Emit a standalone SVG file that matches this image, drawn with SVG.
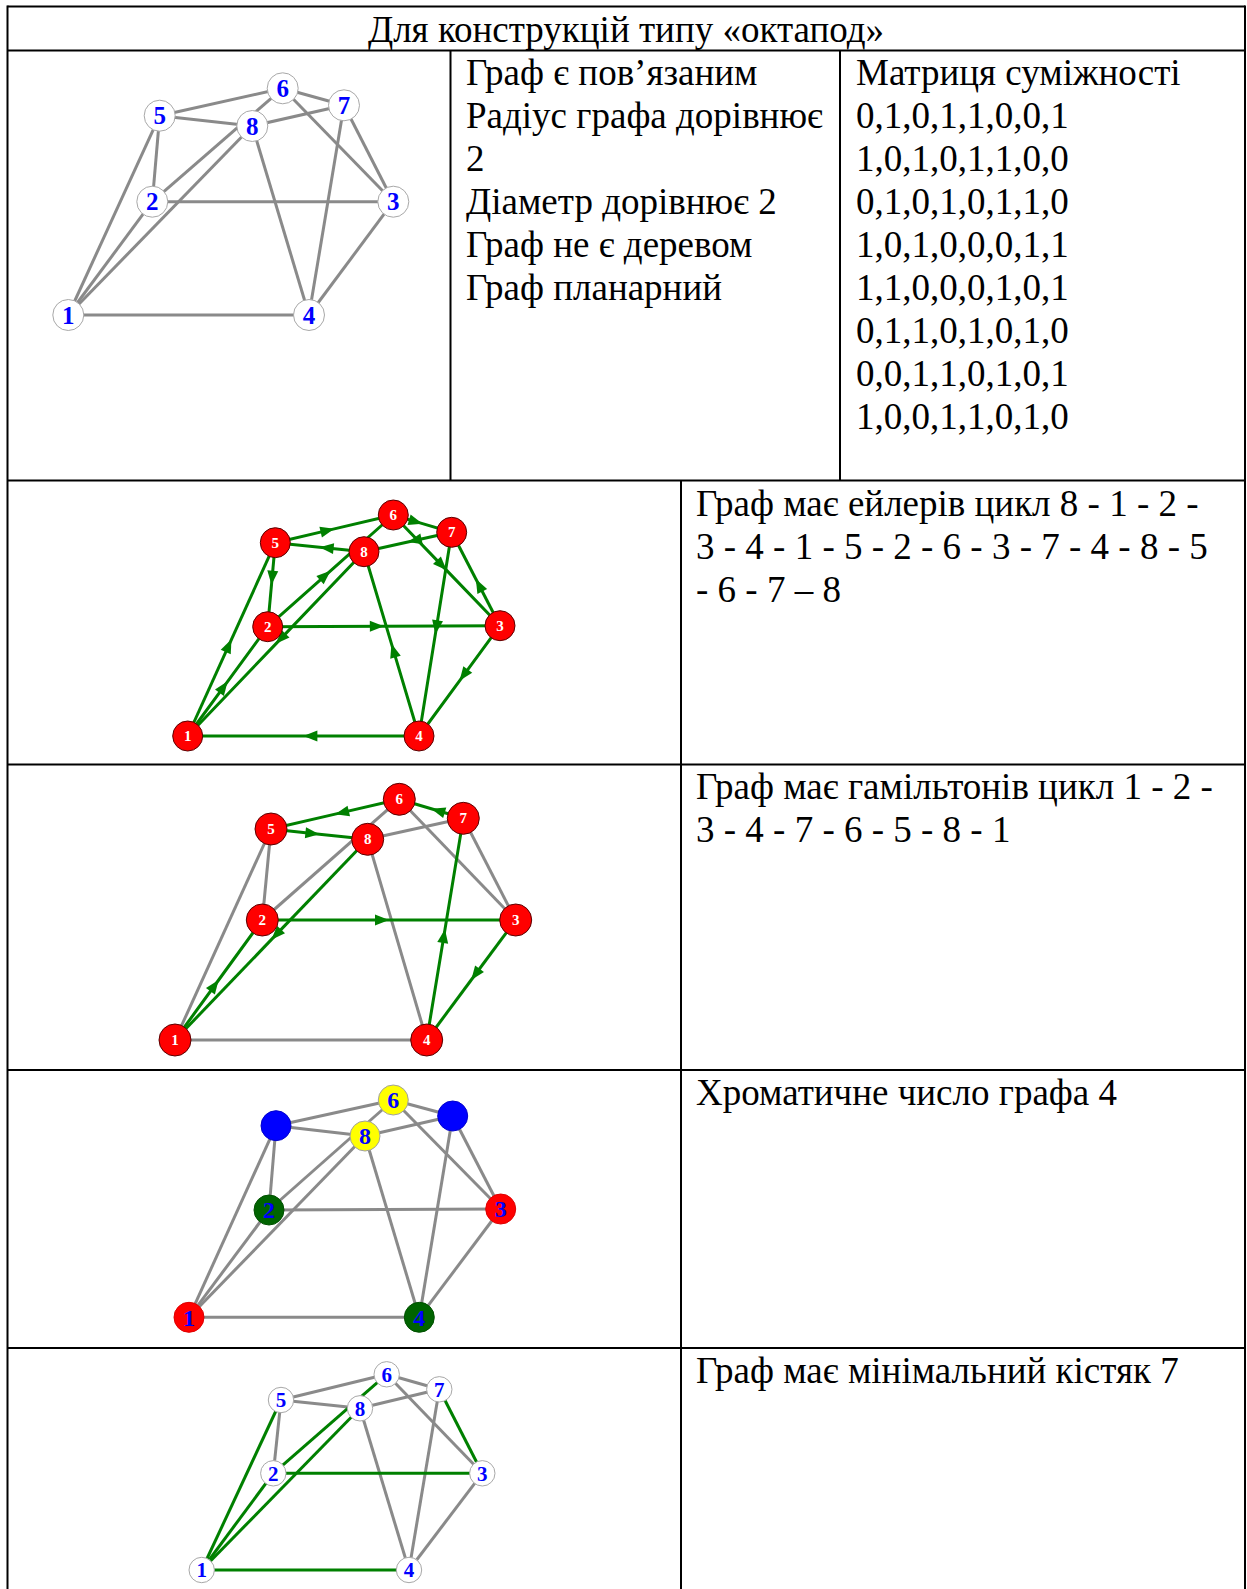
<svg xmlns="http://www.w3.org/2000/svg" width="1247" height="1589" viewBox="0 0 1247 1589">
<style>
.tl{stroke:#000;stroke-width:2;fill:none}
.tx{font-family:"Liberation Serif","Times New Roman",serif;font-size:37px;fill:#000}
.eg{stroke:#8a8a8a;stroke-width:3;fill:none}
.eG{stroke:#008000;stroke-width:3;fill:none}
.eA{stroke:#008000;stroke-width:3;fill:none;marker-mid:url(#arr)}
.nw{fill:#fff;stroke:#a8a8a8;stroke-width:1}
.nr{fill:#f00;stroke:#5a0000;stroke-width:1}
.lb{font-family:"Liberation Serif","Times New Roman",serif;font-weight:bold;fill:#0000ff;text-anchor:middle}
.lw{font-family:"Liberation Serif","Times New Roman",serif;font-weight:bold;fill:#fff;text-anchor:middle;font-size:15px}
</style>
<defs>
<marker id="arr" viewBox="-16 -7 17 14" refX="0" refY="0" markerWidth="17" markerHeight="14" markerUnits="userSpaceOnUse" orient="auto">
<path d="M0,0 L-14,-5.5 L-14,5.5 z" fill="#008000"/>
</marker>
</defs>
<rect width="1247" height="1589" fill="#fff"/>
<g id="table">
<line class="tl" x1="7.5" y1="6.5" x2="1245" y2="6.5"/>
<line class="tl" x1="7.5" y1="5.5" x2="7.5" y2="1589"/>
<line class="tl" x1="1245" y1="5.5" x2="1245" y2="1589"/>
<line class="tl" x1="7.5" y1="50.5" x2="1245" y2="50.5"/>
<line class="tl" x1="7.5" y1="480.5" x2="1245" y2="480.5"/>
<line class="tl" x1="7.5" y1="764.5" x2="1245" y2="764.5"/>
<line class="tl" x1="7.5" y1="1070" x2="1245" y2="1070"/>
<line class="tl" x1="7.5" y1="1348" x2="1245" y2="1348"/>
<line class="tl" x1="450.5" y1="50.5" x2="450.5" y2="480.5"/>
<line class="tl" x1="840" y1="50.5" x2="840" y2="480.5"/>
<line class="tl" x1="681" y1="480.5" x2="681" y2="1589"/>
</g>
<g id="texts">
<text class="tx" x="626" y="42" text-anchor="middle">Для конструкцій типу «октапод»</text>
<text class="tx" x="466" y="85">Граф є пов’язаним</text>
<text class="tx" x="466" y="128">Радіус графа дорівнює</text>
<text class="tx" x="466" y="171">2</text>
<text class="tx" x="466" y="214">Діаметр дорівнює 2</text>
<text class="tx" x="466" y="257">Граф не є деревом</text>
<text class="tx" x="466" y="300">Граф планарний</text>
<text class="tx" x="856" y="85">Матриця суміжності</text>
<text class="tx" x="856" y="128">0,1,0,1,1,0,0,1</text>
<text class="tx" x="856" y="171">1,0,1,0,1,1,0,0</text>
<text class="tx" x="856" y="214">0,1,0,1,0,1,1,0</text>
<text class="tx" x="856" y="257">1,0,1,0,0,0,1,1</text>
<text class="tx" x="856" y="300">1,1,0,0,0,1,0,1</text>
<text class="tx" x="856" y="343">0,1,1,0,1,0,1,0</text>
<text class="tx" x="856" y="386">0,0,1,1,0,1,0,1</text>
<text class="tx" x="856" y="429">1,0,0,1,1,0,1,0</text>
<text class="tx" x="696" y="516">Граф має ейлерів цикл 8 - 1 - 2 -</text>
<text class="tx" x="696" y="559">3 - 4 - 1 - 5 - 2 - 6 - 3 - 7 - 4 - 8 - 5</text>
<text class="tx" x="696" y="602">- 6 - 7 – 8</text>
<text class="tx" x="696" y="799">Граф має гамільтонів цикл 1 - 2 -</text>
<text class="tx" x="696" y="842">3 - 4 - 7 - 6 - 5 - 8 - 1</text>
<text class="tx" x="696" y="1105">Хроматичне число графа 4</text>
<text class="tx" x="696" y="1383">Граф має мінімальний кістяк 7</text>
</g>

<!-- Graph 1 -->
<g id="g1-edges">
<line class="eg" x1="68.3" y1="315" x2="152.3" y2="201.7"/>
<line class="eg" x1="68.3" y1="315" x2="309" y2="315"/>
<line class="eg" x1="68.3" y1="315" x2="159.7" y2="115.7"/>
<line class="eg" x1="68.3" y1="315" x2="252.3" y2="126"/>
<line class="eg" x1="152.3" y1="201.7" x2="393.3" y2="201.7"/>
<line class="eg" x1="152.3" y1="201.7" x2="159.7" y2="115.7"/>
<line class="eg" x1="152.3" y1="201.7" x2="282.7" y2="88.3"/>
<line class="eg" x1="393.3" y1="201.7" x2="309" y2="315"/>
<line class="eg" x1="393.3" y1="201.7" x2="282.7" y2="88.3"/>
<line class="eg" x1="393.3" y1="201.7" x2="344" y2="105.3"/>
<line class="eg" x1="309" y1="315" x2="344" y2="105.3"/>
<line class="eg" x1="309" y1="315" x2="252.3" y2="126"/>
<line class="eg" x1="159.7" y1="115.7" x2="282.7" y2="88.3"/>
<line class="eg" x1="159.7" y1="115.7" x2="252.3" y2="126"/>
<line class="eg" x1="282.7" y1="88.3" x2="344" y2="105.3"/>
<line class="eg" x1="344" y1="105.3" x2="252.3" y2="126"/>
</g>
<g id="g1-n1"><circle class="nw" cx="68.3" cy="315" r="15.5"/><text class="lb" x="68.3" y="323.5" font-size="25">1</text></g>
<g id="g1-n2"><circle class="nw" cx="152.3" cy="201.7" r="15.5"/><text class="lb" x="152.3" y="210.2" font-size="25">2</text></g>
<g id="g1-n3"><circle class="nw" cx="393.3" cy="201.7" r="15.5"/><text class="lb" x="393.3" y="210.2" font-size="25">3</text></g>
<g id="g1-n4"><circle class="nw" cx="309" cy="315" r="15.5"/><text class="lb" x="309" y="323.5" font-size="25">4</text></g>
<g id="g1-n5"><circle class="nw" cx="159.7" cy="115.7" r="15.5"/><text class="lb" x="159.7" y="124.2" font-size="25">5</text></g>
<g id="g1-n6"><circle class="nw" cx="282.7" cy="88.3" r="15.5"/><text class="lb" x="282.7" y="96.8" font-size="25">6</text></g>
<g id="g1-n7"><circle class="nw" cx="344" cy="105.3" r="15.5"/><text class="lb" x="344" y="113.8" font-size="25">7</text></g>
<g id="g1-n8"><circle class="nw" cx="252.3" cy="126" r="15.5"/><text class="lb" x="252.3" y="134.5" font-size="25">8</text></g>

<!-- Graph 2: Euler -->
<g id="g2-edges">
<path class="eA" d="M364,551.7 L275.85,643.85 L187.7,736"/>
<path class="eA" d="M187.7,736 L227.7,681.35 L267.7,626.7"/>
<path class="eA" d="M267.7,626.7 L383.85,626.2 L500,625.7"/>
<path class="eA" d="M500,625.7 L459.5,680.85 L419,736"/>
<path class="eA" d="M419,736 L303.35,736 L187.7,736"/>
<path class="eA" d="M187.7,736 L231.5,639.35 L275.3,542.7"/>
<path class="eA" d="M275.3,542.7 L271.5,584.7 L267.7,626.7"/>
<path class="eA" d="M267.7,626.7 L330.5,570.85 L393.3,515"/>
<path class="eA" d="M393.3,515 L446.65,570.35 L500,625.7"/>
<path class="eA" d="M500,625.7 L475.85,579 L451.7,532.3"/>
<path class="eA" d="M451.7,532.3 L435.35,634.15 L419,736"/>
<path class="eA" d="M419,736 L391.5,643.85 L364,551.7"/>
<path class="eA" d="M364,551.7 L319.65,547.2 L275.3,542.7"/>
<path class="eA" d="M275.3,542.7 L334.3,528.85 L393.3,515"/>
<path class="eA" d="M393.3,515 L422.5,523.65 L451.7,532.3"/>
<path class="eA" d="M451.7,532.3 L407.85,542 L364,551.7"/>
</g>
<g id="g2-n1"><circle class="nr" cx="187.7" cy="736" r="15"/><text class="lw" x="187.7" y="741">1</text></g>
<g id="g2-n2"><circle class="nr" cx="267.7" cy="626.7" r="15"/><text class="lw" x="267.7" y="631.7">2</text></g>
<g id="g2-n3"><circle class="nr" cx="500" cy="625.7" r="15"/><text class="lw" x="500" y="630.7">3</text></g>
<g id="g2-n4"><circle class="nr" cx="419" cy="736" r="15"/><text class="lw" x="419" y="741">4</text></g>
<g id="g2-n5"><circle class="nr" cx="275.3" cy="542.7" r="15"/><text class="lw" x="275.3" y="547.7">5</text></g>
<g id="g2-n6"><circle class="nr" cx="393.3" cy="515" r="15"/><text class="lw" x="393.3" y="520">6</text></g>
<g id="g2-n7"><circle class="nr" cx="451.7" cy="532.3" r="15"/><text class="lw" x="451.7" y="537.3">7</text></g>
<g id="g2-n8"><circle class="nr" cx="364" cy="551.7" r="15"/><text class="lw" x="364" y="556.7">8</text></g>

<!-- Graph 3: Hamilton -->
<g id="g3-edges">
<line class="eg" x1="175" y1="1040" x2="426.7" y2="1040"/>
<line class="eg" x1="175" y1="1040" x2="271" y2="829"/>
<line class="eg" x1="262.3" y1="920" x2="271" y2="829"/>
<line class="eg" x1="262.3" y1="920" x2="399.3" y2="799.3"/>
<line class="eg" x1="515.7" y1="920" x2="399.3" y2="799.3"/>
<line class="eg" x1="515.7" y1="920" x2="463.3" y2="818.3"/>
<line class="eg" x1="426.7" y1="1040" x2="367.7" y2="839.3"/>
<line class="eg" x1="463.3" y1="818.3" x2="367.7" y2="839.3"/>
<path class="eA" d="M175,1040 L218.65,980 L262.3,920"/>
<path class="eA" d="M262.3,920 L389,920 L515.7,920"/>
<path class="eA" d="M515.7,920 L471.2,980 L426.7,1040"/>
<path class="eA" d="M426.7,1040 L445,929.15 L463.3,818.3"/>
<path class="eA" d="M463.3,818.3 L431.3,808.8 L399.3,799.3"/>
<path class="eA" d="M399.3,799.3 L335.15,814.15 L271,829"/>
<path class="eA" d="M271,829 L319.35,834.15 L367.7,839.3"/>
<path class="eA" d="M367.7,839.3 L271.35,939.65 L175,1040"/>
</g>
<g id="g3-n1"><circle class="nr" cx="175" cy="1040" r="16"/><text class="lw" x="175" y="1045">1</text></g>
<g id="g3-n2"><circle class="nr" cx="262.3" cy="920" r="16"/><text class="lw" x="262.3" y="925">2</text></g>
<g id="g3-n3"><circle class="nr" cx="515.7" cy="920" r="16"/><text class="lw" x="515.7" y="925">3</text></g>
<g id="g3-n4"><circle class="nr" cx="426.7" cy="1040" r="16"/><text class="lw" x="426.7" y="1045">4</text></g>
<g id="g3-n5"><circle class="nr" cx="271" cy="829" r="16"/><text class="lw" x="271" y="834">5</text></g>
<g id="g3-n6"><circle class="nr" cx="399.3" cy="799.3" r="16"/><text class="lw" x="399.3" y="804.3">6</text></g>
<g id="g3-n7"><circle class="nr" cx="463.3" cy="818.3" r="16"/><text class="lw" x="463.3" y="823.3">7</text></g>
<g id="g3-n8"><circle class="nr" cx="367.7" cy="839.3" r="16"/><text class="lw" x="367.7" y="844.3">8</text></g>

<!-- Graph 4: colouring -->
<g id="g4-edges">
<line class="eg" x1="189" y1="1317.3" x2="269" y2="1210"/>
<line class="eg" x1="189" y1="1317.3" x2="419.3" y2="1317.3"/>
<line class="eg" x1="189" y1="1317.3" x2="276" y2="1125.7"/>
<line class="eg" x1="189" y1="1317.3" x2="365" y2="1136"/>
<line class="eg" x1="269" y1="1210" x2="500.7" y2="1209"/>
<line class="eg" x1="269" y1="1210" x2="276" y2="1125.7"/>
<line class="eg" x1="269" y1="1210" x2="393.3" y2="1100"/>
<line class="eg" x1="500.7" y1="1209" x2="419.3" y2="1317.3"/>
<line class="eg" x1="500.7" y1="1209" x2="393.3" y2="1100"/>
<line class="eg" x1="500.7" y1="1209" x2="452.7" y2="1116"/>
<line class="eg" x1="419.3" y1="1317.3" x2="452.7" y2="1116"/>
<line class="eg" x1="419.3" y1="1317.3" x2="365" y2="1136"/>
<line class="eg" x1="276" y1="1125.7" x2="393.3" y2="1100"/>
<line class="eg" x1="276" y1="1125.7" x2="365" y2="1136"/>
<line class="eg" x1="393.3" y1="1100" x2="452.7" y2="1116"/>
<line class="eg" x1="452.7" y1="1116" x2="365" y2="1136"/>
</g>
<g id="g4-n1"><circle cx="189" cy="1317.3" r="15" fill="#f00" stroke="#d00" stroke-width="1"/><text class="lb" x="189" y="1325.5" font-size="24">1</text></g>
<g id="g4-n2"><circle cx="269" cy="1210" r="15" fill="#006400" stroke="#005000" stroke-width="1"/><text class="lb" x="269" y="1218.2" font-size="24">2</text></g>
<g id="g4-n3"><circle cx="500.7" cy="1209" r="15" fill="#f00" stroke="#d00" stroke-width="1"/><text class="lb" x="500.7" y="1217.2" font-size="24">3</text></g>
<g id="g4-n4"><circle cx="419.3" cy="1317.3" r="15" fill="#006400" stroke="#005000" stroke-width="1"/><text class="lb" x="419.3" y="1325.5" font-size="24">4</text></g>
<g id="g4-n5"><circle cx="276" cy="1125.7" r="15" fill="#00f" stroke="#00c" stroke-width="1"/></g>
<g id="g4-n6"><circle cx="393.3" cy="1100" r="15" fill="#ff0" stroke="#a0a0a0" stroke-width="1"/><text class="lb" x="393.3" y="1108.2" font-size="24">6</text></g>
<g id="g4-n7"><circle cx="452.7" cy="1116" r="15" fill="#00f" stroke="#00c" stroke-width="1"/></g>
<g id="g4-n8"><circle cx="365" cy="1136" r="15" fill="#ff0" stroke="#a0a0a0" stroke-width="1"/><text class="lb" x="365" y="1144.2" font-size="24">8</text></g>

<!-- Graph 5: spanning tree -->
<g id="g5-edges">
<line class="eg" x1="273.3" y1="1473.3" x2="281" y2="1400"/>
<line class="eg" x1="281" y1="1400" x2="386.7" y2="1374.3"/>
<line class="eg" x1="281" y1="1400" x2="360" y2="1408.3"/>
<line class="eg" x1="386.7" y1="1374.3" x2="439.3" y2="1389.3"/>
<line class="eg" x1="439.3" y1="1389.3" x2="360" y2="1408.3"/>
<line class="eg" x1="386.7" y1="1374.3" x2="482.3" y2="1473.3"/>
<line class="eg" x1="409" y1="1570" x2="360" y2="1408.3"/>
<line class="eg" x1="409" y1="1570" x2="439.3" y2="1389.3"/>
<line class="eg" x1="482.3" y1="1473.3" x2="409" y2="1570"/>
<line class="eG" x1="201.7" y1="1570" x2="281" y2="1400"/>
<line class="eG" x1="201.7" y1="1570" x2="273.3" y2="1473.3"/>
<line class="eG" x1="201.7" y1="1570" x2="360" y2="1408.3"/>
<line class="eG" x1="273.3" y1="1473.3" x2="386.7" y2="1374.3"/>
<line class="eG" x1="273.3" y1="1473.3" x2="482.3" y2="1473.3"/>
<line class="eG" x1="482.3" y1="1473.3" x2="439.3" y2="1389.3"/>
<line class="eG" x1="201.7" y1="1570" x2="409" y2="1570"/>
</g>
<g id="g5-n1"><circle class="nw" cx="201.7" cy="1570" r="12.7"/><text class="lb" x="201.7" y="1577.3" font-size="21">1</text></g>
<g id="g5-n2"><circle class="nw" cx="273.3" cy="1473.3" r="12.7"/><text class="lb" x="273.3" y="1480.6" font-size="21">2</text></g>
<g id="g5-n3"><circle class="nw" cx="482.3" cy="1473.3" r="12.7"/><text class="lb" x="482.3" y="1480.6" font-size="21">3</text></g>
<g id="g5-n4"><circle class="nw" cx="409" cy="1570" r="12.7"/><text class="lb" x="409" y="1577.3" font-size="21">4</text></g>
<g id="g5-n5"><circle class="nw" cx="281" cy="1400" r="12.7"/><text class="lb" x="281" y="1407.3" font-size="21">5</text></g>
<g id="g5-n6"><circle class="nw" cx="386.7" cy="1374.3" r="12.7"/><text class="lb" x="386.7" y="1381.6" font-size="21">6</text></g>
<g id="g5-n7"><circle class="nw" cx="439.3" cy="1389.3" r="12.7"/><text class="lb" x="439.3" y="1396.6" font-size="21">7</text></g>
<g id="g5-n8"><circle class="nw" cx="360" cy="1408.3" r="12.7"/><text class="lb" x="360" y="1415.6" font-size="21">8</text></g>
</svg>
